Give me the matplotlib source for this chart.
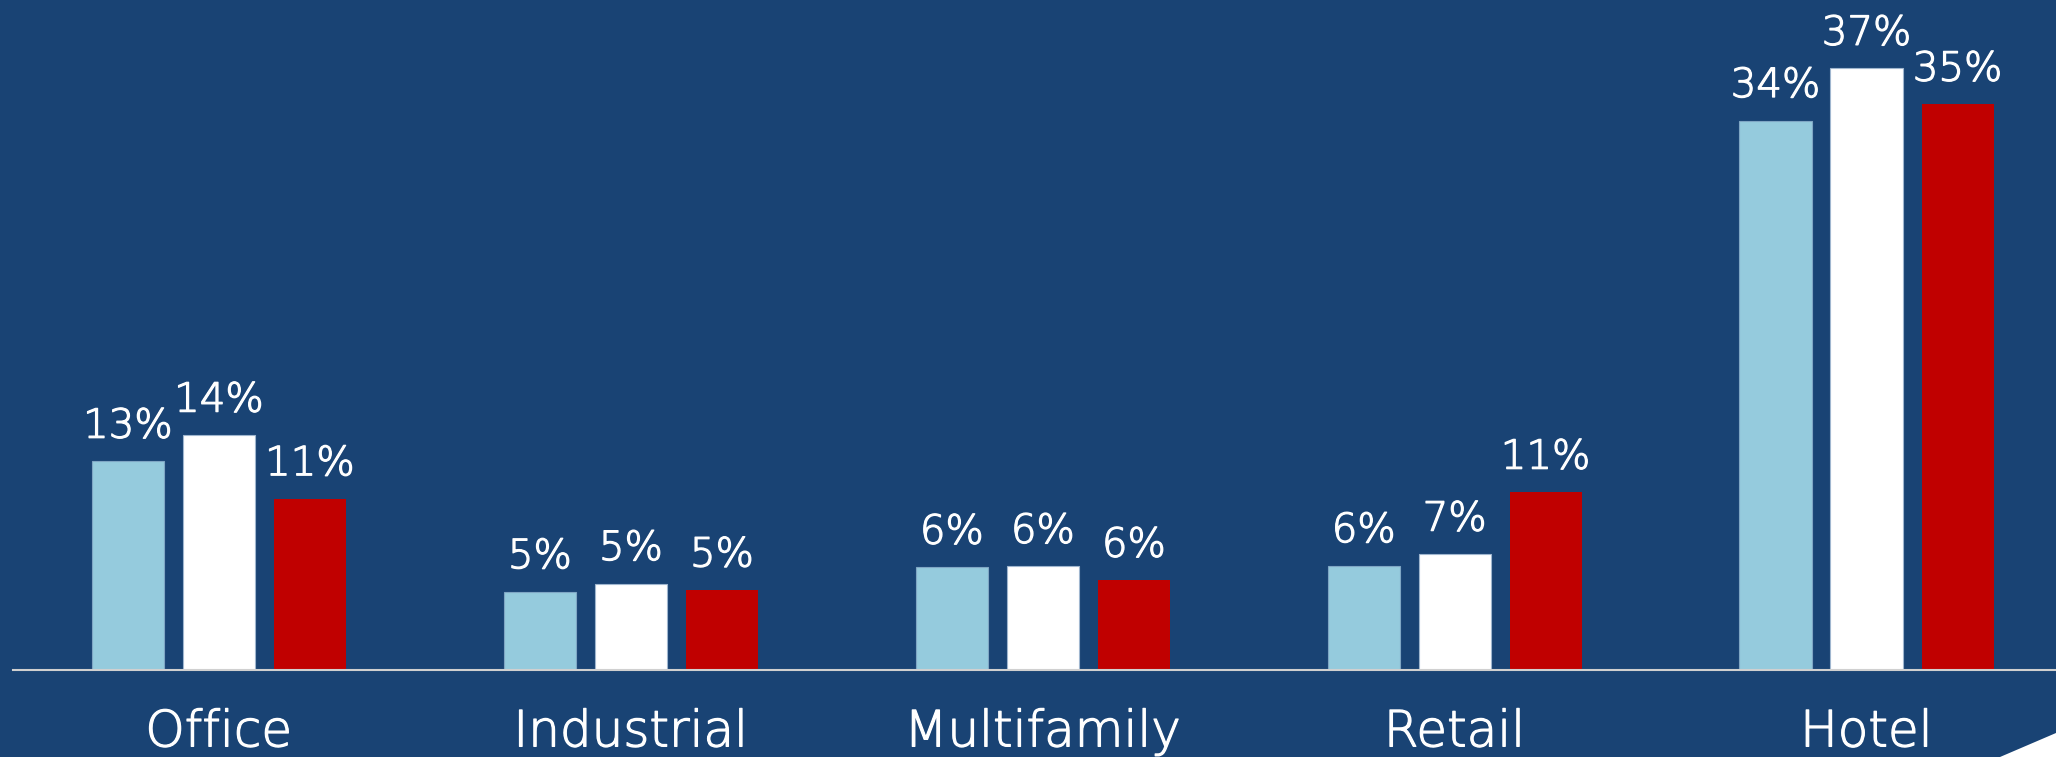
import matplotlib
matplotlib.use("Agg")
import matplotlib.pyplot as plt
import matplotlib.patheffects as pe
from matplotlib.patches import Polygon
import numpy as np

# data
categories = ["Office", "Industrial", "Multifamily", "Retail", "Hotel"]
series_a = [12.8, 4.8, 6.3, 6.4, 33.7]    # light blue
series_b = [14.4, 5.3, 6.35, 7.1, 36.9]   # white
series_c = [10.5, 4.9, 5.5, 10.9, 34.7]   # red
labels_a = ["13%", "5%", "6%", "6%", "34%"]
labels_b = ["14%", "5%", "6%", "7%", "37%"]
labels_c = ["11%", "5%", "6%", "11%", "35%"]

bg = "#194374"
plt.rcParams['font.family'] = ['DejaVu Sans']

fig = plt.figure(figsize=(20.56, 7.57), dpi=100)
fig.patch.set_facecolor(bg)
ax = fig.add_axes([13/2056, 87/757, 1 - 13/2056, 670/757])
ax.set_facecolor(bg)

x = np.arange(len(categories))
w = 0.175
off = 0.221
ax.bar(x - off, series_a, w, color="#95CBDD", edgecolor="#7fa6c4", linewidth=0.8)
ax.bar(x, series_b, w, color="white", edgecolor="#9fb6cf", linewidth=0.8)
ax.bar(x + off, series_c, w, color="#C00000", linewidth=0)

thick = [pe.withStroke(linewidth=0.9, foreground='white')]
for vals, labs, dx in [(series_a, labels_a, -off), (series_b, labels_b, 0), (series_c, labels_c, off)]:
    for i in range(len(vals)):
        ax.annotate(labs[i], xy=(x[i] + dx, vals[i]), xytext=(0, 17), textcoords='offset points',
                    ha='center', va='baseline', color='white', fontsize=29, fontweight='light',
                    path_effects=thick)

for i, c in enumerate(categories):
    ax.annotate(c, xy=(x[i], 0), xytext=(0, -55), textcoords='offset points',
                ha='center', va='baseline', color='white', fontsize=36, fontweight='light',
                path_effects=thick, annotation_clip=False)

ax.set_xlim(-0.5, 4.46)
ax.set_ylim(0, 41.1)
for s in ['top', 'left', 'right']:
    ax.spines[s].set_visible(False)
ax.spines['bottom'].set_color('#d0d0d0')
ax.spines['bottom'].set_linewidth(1.5)
ax.set_xticks([])
ax.set_yticks([])

# white corner shape bottom right
fig.patches.append(Polygon([(2000/2056, 0), (1, 24/757), (1, 0)], closed=True,
                           transform=fig.transFigure, facecolor='white', edgecolor='none'))

fig.savefig("out.png", dpi=100, facecolor=bg)
